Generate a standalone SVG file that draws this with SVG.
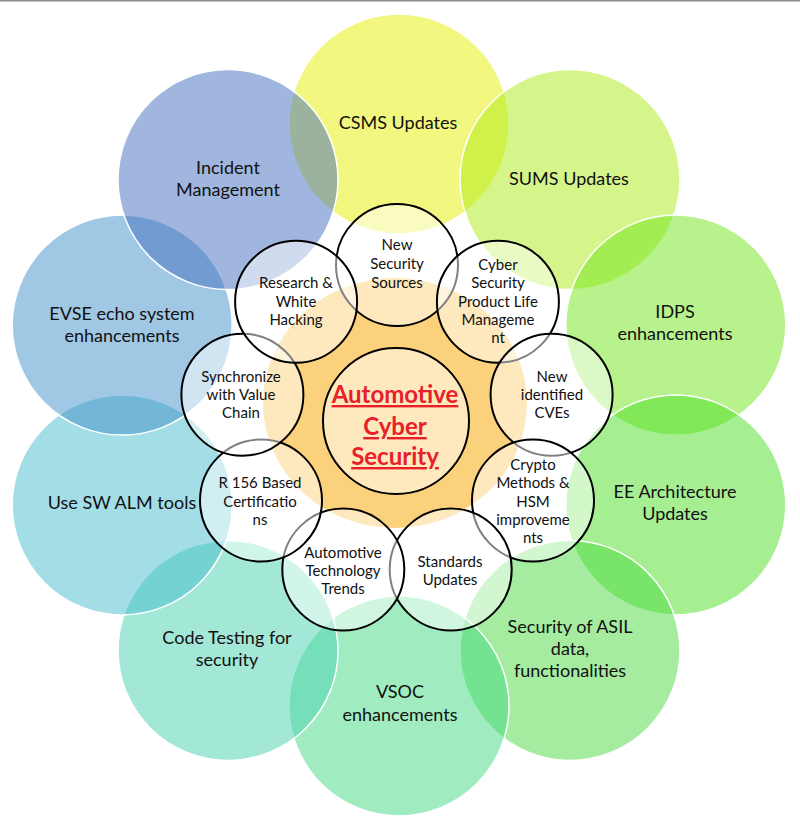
<svg xmlns="http://www.w3.org/2000/svg" width="800" height="822" viewBox="0 0 800 822">
<style>
.outer{fill-opacity:0.5;stroke:#ffffff;stroke-width:1.5}
.small{fill:#ffffff;fill-opacity:0.5;stroke:#000000;stroke-width:2}
.ot{font-family:Lato,"Open Sans",sans-serif;font-size:18px;fill:#111111;text-anchor:middle}
.st{font-family:Lato,"Open Sans",sans-serif;font-size:15px;fill:#111111;text-anchor:middle}
.ct{font-family:Lato,"Open Sans",sans-serif;font-size:24px;font-weight:bold;fill:#e8202a;text-anchor:middle;text-decoration:underline}
</style>
<rect x="0" y="0" width="800" height="822" fill="#ffffff"/>
<line x1="0" y1="0.75" x2="800" y2="0.75" stroke="#8c8c8c" stroke-width="1.5"/>
<g id="outer-circles">
<g id="csms"><circle class="outer" cx="399" cy="124" r="110" fill="#e5ef00"/><text class="ot" x="398" y="129">CSMS Updates</text></g>
<g id="sums"><circle class="outer" cx="570" cy="179.6" r="110" fill="#abeb15"/><text class="ot" x="569" y="185">SUMS Updates</text></g>
<g id="idps"><circle class="outer" cx="675.8" cy="325.1" r="110" fill="#6fe519"/><text class="ot" x="675" y="318">IDPS</text><text class="ot" x="675" y="340">enhancements</text></g>
<g id="ee"><circle class="outer" cx="675.8" cy="504.9" r="110" fill="#4bdd23"/><text class="ot" x="675" y="498">EE Architecture</text><text class="ot" x="675" y="520">Updates</text></g>
<g id="asil"><circle class="outer" cx="570" cy="650.4" r="110" fill="#4bd941"/><text class="ot" x="570" y="633">Security of ASIL</text><text class="ot" x="570" y="655">data,</text><text class="ot" x="570" y="677">functionalities</text></g>
<g id="vsoc"><circle class="outer" cx="399" cy="706" r="110" fill="#41d981"/><text class="ot" x="400" y="698">VSOC</text><text class="ot" x="400" y="721">enhancements</text></g>
<g id="code"><circle class="outer" cx="228" cy="650.4" r="110" fill="#47d1af"/><text class="ot" x="227" y="644">Code Testing for</text><text class="ot" x="227" y="666">security</text></g>
<g id="usesw"><circle class="outer" cx="122.2" cy="504.9" r="110" fill="#47bbcd"/><text class="ot" x="122" y="509">Use SW ALM tools</text></g>
<g id="evse"><circle class="outer" cx="122.2" cy="325.1" r="110" fill="#4191c9"/><text class="ot" x="122" y="320">EVSE echo system</text><text class="ot" x="122" y="342">enhancements</text></g>
<g id="incident"><circle class="outer" cx="228" cy="179.6" r="110" fill="#416dbd"/><text class="ot" x="228" y="174">Incident</text><text class="ot" x="228" y="196">Management</text></g>
</g>
<g id="core-background">
<ellipse cx="395" cy="403" rx="132" ry="125" fill="#fbd27b"/>
</g>
<g id="inner-circles">
<g id="nss"><circle class="small" cx="397" cy="265" r="61"/><text class="st" x="397" y="250">New</text><text class="st" x="397" y="269">Security</text><text class="st" x="397" y="288">Sources</text></g>
<g id="csplm"><circle class="small" cx="497.9" cy="301.7" r="61"/><text class="st" x="498" y="270">Cyber</text><text class="st" x="498" y="288">Security</text><text class="st" x="498" y="307">Product Life</text><text class="st" x="498" y="325">Manageme</text><text class="st" x="498" y="343">nt</text></g>
<g id="cves"><circle class="small" cx="551.6" cy="394.7" r="61"/><text class="st" x="552" y="382">New</text><text class="st" x="552" y="400">identified</text><text class="st" x="552" y="418">CVEs</text></g>
<g id="crypto"><circle class="small" cx="533" cy="500.5" r="61"/><text class="st" x="533" y="470">Crypto</text><text class="st" x="533" y="488">Methods &amp;</text><text class="st" x="533" y="507">HSM</text><text class="st" x="533" y="525">improveme</text><text class="st" x="533" y="543">nts</text></g>
<g id="standards"><circle class="small" cx="450.7" cy="569.5" r="61"/><text class="st" x="450" y="567">Standards</text><text class="st" x="450" y="585">Updates</text></g>
<g id="att"><circle class="small" cx="343.3" cy="569.5" r="61"/><text class="st" x="343" y="558">Automotive</text><text class="st" x="343" y="576">Technology</text><text class="st" x="343" y="594">Trends</text></g>
<g id="r156"><circle class="small" cx="261" cy="500.5" r="61"/><text class="st" x="260" y="488">R 156 Based</text><text class="st" x="260" y="507">Certificatio</text><text class="st" x="260" y="525">ns</text></g>
<g id="sync"><circle class="small" cx="242.4" cy="394.7" r="61"/><text class="st" x="241" y="382">Synchronize</text><text class="st" x="241" y="400">with Value</text><text class="st" x="241" y="418">Chain</text></g>
<g id="research"><circle class="small" cx="296.1" cy="301.7" r="61"/><text class="st" x="296" y="288">Research &amp;</text><text class="st" x="296" y="307">White</text><text class="st" x="296" y="325">Hacking</text></g>
</g>
<g id="center">
<circle cx="396" cy="421" r="73" fill="#ffffff" fill-opacity="0.5" stroke="#000000" stroke-width="2"/>
<text class="ct" x="395" y="403">Automotive</text>
<text class="ct" x="395" y="435">Cyber</text>
<text class="ct" x="395" y="465">Security</text>
</g>
<g id="connectors"></g>
</svg>
